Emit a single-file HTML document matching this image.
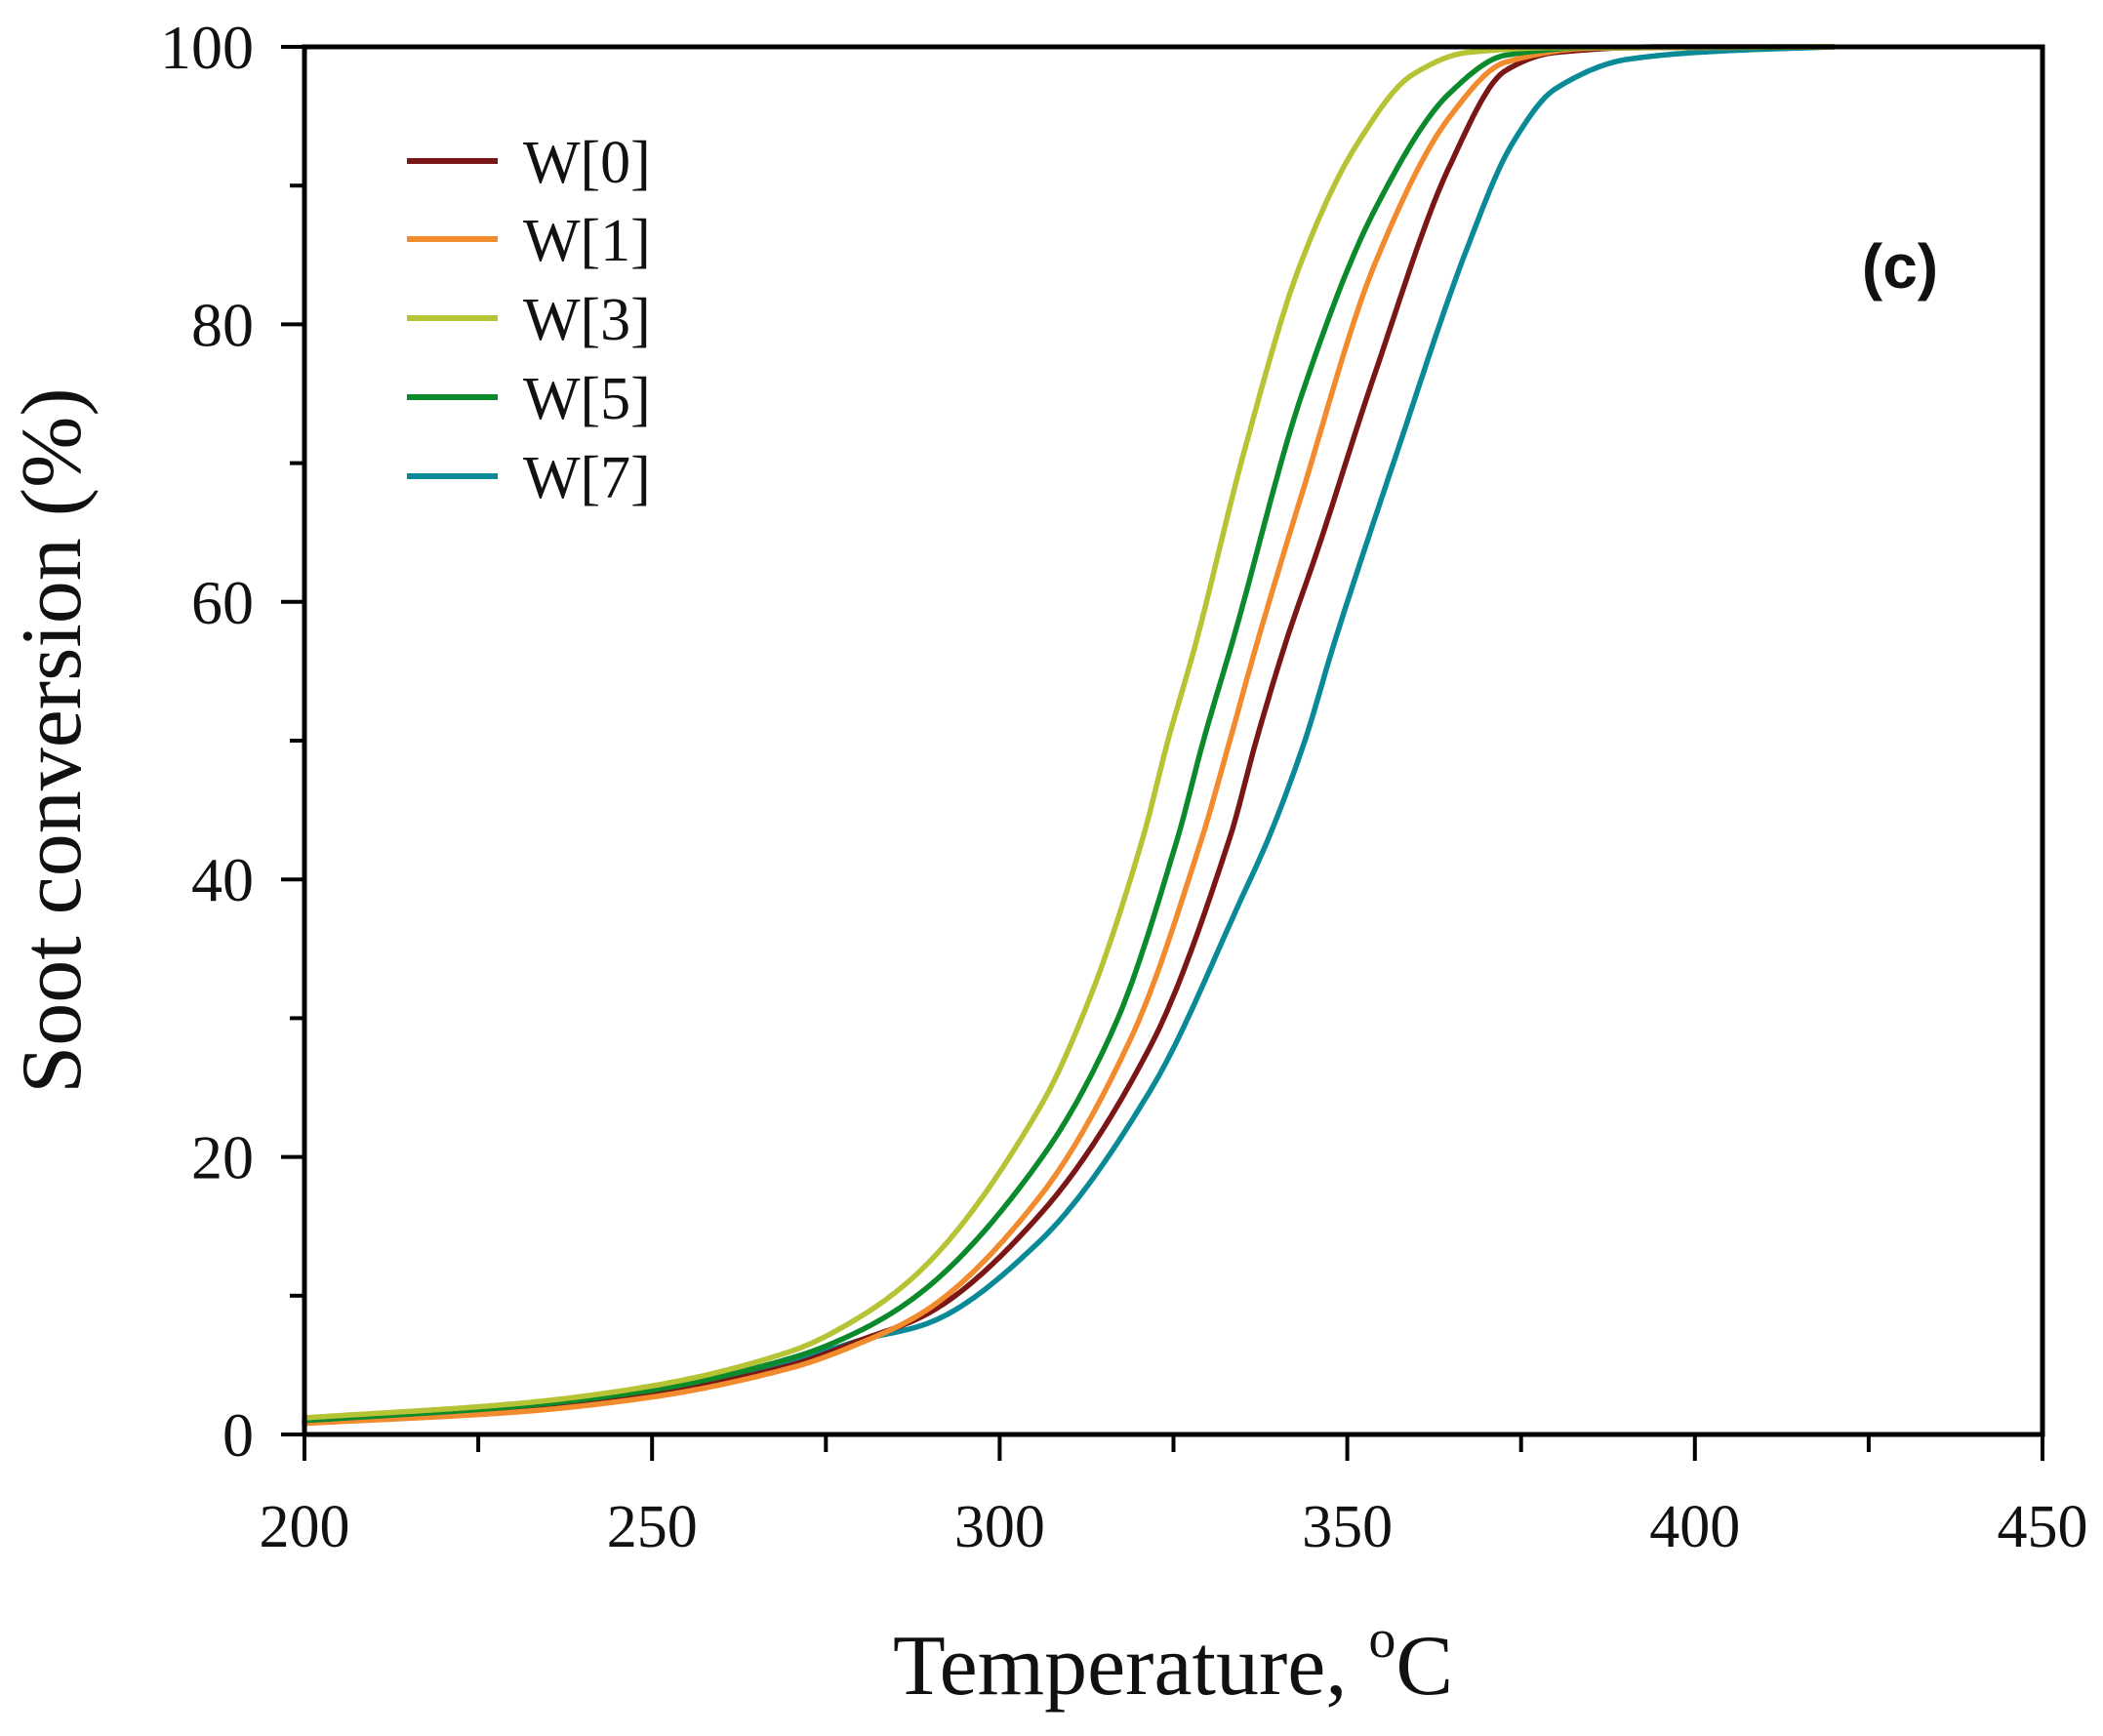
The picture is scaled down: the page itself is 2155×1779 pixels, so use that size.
<!DOCTYPE html>
<html><head><meta charset="utf-8"><style>
html,body{margin:0;padding:0;background:#fff;}
svg{display:block;}
text{font-family:"Liberation Serif",serif;fill:#111;}
</style></head><body>
<svg id="s" width="2155" height="1779" viewBox="0 0 2155 1779" xmlns="http://www.w3.org/2000/svg">
<g id="curves" fill="none" stroke-width="5.5" stroke-linejoin="round" stroke-linecap="round"></g>
<rect x="312" y="48" width="1781" height="1422" fill="none" stroke="#000" stroke-width="5"/>
<g id="ticks" stroke="#000" stroke-width="4"></g>
<g font-size="64" text-anchor="end" id="ylab"></g>
<g font-size="62" text-anchor="middle" id="xlab"></g>
<text x="62" y="759" font-size="88" text-anchor="middle" transform="rotate(-90 62 759)" dominant-baseline="middle">Soot conversion (%)</text>
<text x="1202" y="1736" font-size="88" text-anchor="middle">Temperature, <tspan font-size="56" dy="-38">o</tspan><tspan dy="38">C</tspan></text>
<text x="1947" y="295" font-size="64" font-weight="bold" text-anchor="middle" style="font-family:'Liberation Sans',sans-serif">(c)</text>
<g id="leg" font-size="62"></g>
</svg>
<script>
const X=t=>312+(t-200)*7.124, Y=v=>1470-v*14.22;
const ns="http://www.w3.org/2000/svg";
function el(p,tag,a,txt){const e=document.createElementNS(ns,tag);for(const k in a)e.setAttribute(k,a[k]);if(txt!=null)e.textContent=txt;document.getElementById(p).appendChild(e);return e;}
for(let v=0;v<=100;v+=10){const maj=v%20==0;el('ticks','line',{x1:maj?288:297,x2:312,y1:Y(v),y2:Y(v)});if(maj)el('ylab','text',{x:260,y:Y(v)+22},v);}
for(let t=200;t<=450;t+=25){const maj=t%50==0;el('ticks','line',{x1:X(t),x2:X(t),y1:1470,y2:maj?1497:1488});if(maj)el('xlab','text',{x:X(t),y:1585},t);}
const S=[
['W[7]','#0a8a96',[[200,0.8],[230,1.8],[250,3.0],[270,5.2],[280,6.8],[289.6,8.0],[305.7,13.9],[321.8,24.9],[335.2,39.1],[338.7,43],[343.9,50],[348.1,57],[356.7,70.1],[367.4,85.7],[373.7,93],[380,97],[390.3,99.1],[403.8,99.7],[420,100]]],
['W[0]','#7a1616',[[200,0.9],[230,1.8],[250,2.9],[270,5],[280,6.8],[289.6,8.7],[305.7,15.8],[321.8,28.1],[333.1,43],[336.9,50],[341.1,57],[345.9,64],[354,76.5],[364.8,91.5],[372.8,98.3],[380,99.6],[395,100],[420,100]]],
['W[1]','#f28a2e',[[200,0.8],[230,1.6],[250,2.7],[270,4.8],[280,6.6],[289.6,9.0],[305.7,17.1],[319.1,28.8],[329.1,43],[333.1,50],[337,57],[343.3,67.5],[354,84.4],[364.8,95],[372.8,98.9],[385,99.9],[420,100]]],
['W[5]','#0b8a2c',[[200,1.0],[230,2.0],[250,3.2],[270,5.5],[280,7.5],[289.6,10.6],[305.7,19.7],[316.5,29.4],[325.6,43],[329.3,50],[333.7,57.5],[343.3,74.7],[354,88.3],[364.8,96.7],[372.8,99.4],[385,99.95],[420,100]]],
['W[3]','#b6c334',[[200,1.2],[230,2.2],[250,3.5],[270,6],[280,8.5],[289.6,12.3],[305.7,23.5],[313,31.5],[320.6,43],[324.2,50],[328.2,57],[335.2,70.9],[343.3,84.4],[351.3,92.9],[359.4,98],[367.4,99.6],[380,99.95],[420,100]]]];
function mono(p){const n=p.length,d=[],m=[];for(let i=0;i<n-1;i++)d.push((p[i+1][1]-p[i][1])/(p[i+1][0]-p[i][0]));m[0]=d[0];m[n-1]=d[n-2];for(let i=1;i<n-1;i++){m[i]=(d[i-1]*d[i]<=0)?0:2/(1/d[i-1]+1/d[i]);}
 return t=>{let i=0;while(i<n-2&&t>p[i+1][0])i++;const h=p[i+1][0]-p[i][0],s=(t-p[i][0])/h;const h00=2*s*s*s-3*s*s+1,h10=s*s*s-2*s*s+s,h01=-2*s*s*s+3*s*s,h11=s*s*s-s*s;return h00*p[i][1]+h10*h*m[i]+h01*p[i+1][1]+h11*h*m[i+1];};}
S.forEach(s=>{const f=mono(s[2]);let d='';for(let t=200;t<=420;t+=0.5){d+=(t==200?'M':'L')+X(t).toFixed(1)+','+Y(Math.min(100,f(t))).toFixed(1);}el('curves','path',{d:d,stroke:s[1]});});
const order=[1,2,4,3,0],ys=[165,245,326,407,488];
order.forEach((k,i)=>{const s=S[k];el('leg','line',{x1:417,x2:510,y1:ys[i],y2:ys[i],stroke:s[1],'stroke-width':6});el('leg','text',{x:536,y:ys[i]+22},s[0]);});
</script>
</body></html>
